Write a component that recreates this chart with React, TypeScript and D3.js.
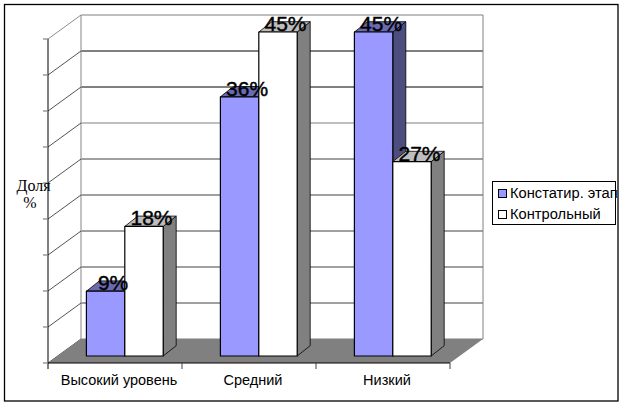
import React from "react";
import * as d3 from "d3";

const categories = ["Высокий уровень", "Средний", "Низкий"];
const seriesNames = ["Констатир. этап", "Контрольный"];
const konstatir = [9, 36, 45];
const kontrol = [18, 45, 27];
const yTicks = [0, 5, 10, 15, 20, 25, 30, 35, 40, 45];
const gridColors = ["#808080", "#808080", "#808080", "#808080", "#404040", "#404040", "#808080", "#000000", "#000000", "#808080"];
const gridWidths = [1, 1.5, 1.5, 1.5, 1.2, 1.2, 1.2, 1, 1, 1];

const W = 624, H = 406;
const SANS = "'Liberation Sans', Arial, sans-serif";
const SERIF = "'Liberation Serif', 'Times New Roman', serif";

const depthX = 33, depthY = -24;
const barOffX = 9.8, barOffY = -7;
const barDX = 13, barDY = -10.3;

const x = d3.scaleBand<string>().domain(categories).range([48, 450]);
const y = d3.scaleLinear().domain([0, 45]).range([363, 39]);
const barW = 38.4;

const styles = [
  { front: "#9999ff", top: "#6a6ab2", side: "#4d4d80" },
  { front: "#ffffff", top: "#bdbdbd", side: "#808080" },
];

const poly = (pts: [number, number][]) => pts.map((p) => p.join(",")).join(" ");

export default function App() {
  const x0 = x.range()[0], x1 = x.range()[1];
  const y0 = y(0);
  const bw = x.bandwidth();
  const series = [konstatir, kontrol];

  const bars = categories.map((c, i) => {
    const cx = x(c)! + bw / 2 + barOffX;
    return series.map((vals, s) => {
      const v = vals[i];
      const l = cx + (s - 1) * barW;
      const r = l + barW;
      const t = y(v) + barOffY;
      const b = y0 + barOffY;
      const st = styles[s];
      return (
        <g key={`${i}-${s}`} stroke="#000" strokeWidth={1.2} strokeLinejoin="round">
          <polygon fill={st.side} strokeWidth={0.8} points={poly([[r, t], [r + barDX, t + barDY], [r + barDX, b + barDY], [r, b]])} />
          <polygon fill={st.top} strokeWidth={0.8} points={poly([[l, t], [l + barDX, t + barDY], [r + barDX, t + barDY], [r, t]])} />
          <rect x={l} y={t} width={barW} height={b - t} fill={st.front} />
        </g>
      );
    });
  });

  const labels = categories.flatMap((c, i) => {
    const cx = x(c)! + bw / 2 + barOffX;
    return series.map((vals, s) => {
      const v = vals[i];
      const l = cx + (s - 1) * barW;
      return (
        <text key={`${i}-${s}`} x={l + barW / 2 + 7.5} y={y(v) + barOffY - 1} textAnchor="middle"
          fontFamily={SANS} fontSize={21} fill="#000" stroke="#000" strokeWidth={0.4}>{v}%</text>
      );
    });
  });

  return (
    <svg width={W} height={H} style={{ position: "absolute", left: 0, top: 0, background: "#fff" }}>
      <rect x={4.5} y={4.5} width={613.5} height={396.5} fill="#fff" stroke="#000" strokeWidth={1.3} />

      {yTicks.map((t, i) => (
        <line key={t} x1={x0 + depthX} x2={x1 + depthX} y1={y(t) + depthY} y2={y(t) + depthY}
          stroke={gridColors[i]} strokeWidth={gridWidths[i]} />
      ))}
      <line x1={x0 + depthX} x2={x0 + depthX} y1={y(45) + depthY} y2={y0 + depthY} stroke="#999" strokeWidth={1.2} />
      <line x1={x1 + depthX} x2={x1 + depthX} y1={y(45) + depthY} y2={y0 + depthY} stroke="#808080" strokeWidth={1} />

      {yTicks.map((t, i) => (
        <line key={t} x1={x0} x2={x0 + depthX} y1={y(t)} y2={y(t) + depthY}
          stroke={i === yTicks.length - 1 ? "#808080" : "#404040"} strokeWidth={0.9} />
      ))}

      <polygon fill="#808080" points={poly([[x0, y0], [x0 + depthX, y0 + depthY], [x1 + depthX, y0 + depthY], [x1, y0]])} />

      <line x1={x0} x2={x0} y1={y(45)} y2={y0 + 6} stroke="#000" strokeWidth={1} />
      <line x1={x0} x2={x1} y1={y0} y2={y0} stroke="#000" strokeWidth={1} />
      {yTicks.map((t) => (
        <line key={t} x1={x0 - 5} x2={x0} y1={y(t)} y2={y(t)} stroke="#808080" strokeWidth={1.2} />
      ))}
      {categories.map((c) => (
        <line key={c} x1={x(c)! + bw} x2={x(c)! + bw} y1={y0} y2={y0 + 6} stroke="#404040" strokeWidth={1} />
      ))}

      {bars}
      {labels}

      {categories.map((c) => (
        <text key={c} x={x(c)! + bw / 2 + 4} y={385} textAnchor="middle" fontFamily={SANS} fontSize={14.5} fill="#000">{c}</text>
      ))}

      <text x={33.5} y={191} textAnchor="middle" fontFamily={SERIF} fontSize={16} fill="#000">Доля</text>
      <text x={30} y={208} textAnchor="middle" fontFamily={SERIF} fontSize={16} fill="#000">%</text>

      <rect x={492.5} y={181.5} width={123} height={43} fill="#fff" stroke="#000" strokeWidth={1} />
      {seriesNames.map((n, i) => (
        <g key={n}>
          <rect x={498.5} y={189.5 + i * 21} width={8} height={8} fill={styles[i].front} stroke="#000" strokeWidth={1} />
          <text x={510} y={198 + i * 21} fontFamily={SANS} fontSize={14.7} fill="#000">{n}</text>
        </g>
      ))}
    </svg>
  );
}
